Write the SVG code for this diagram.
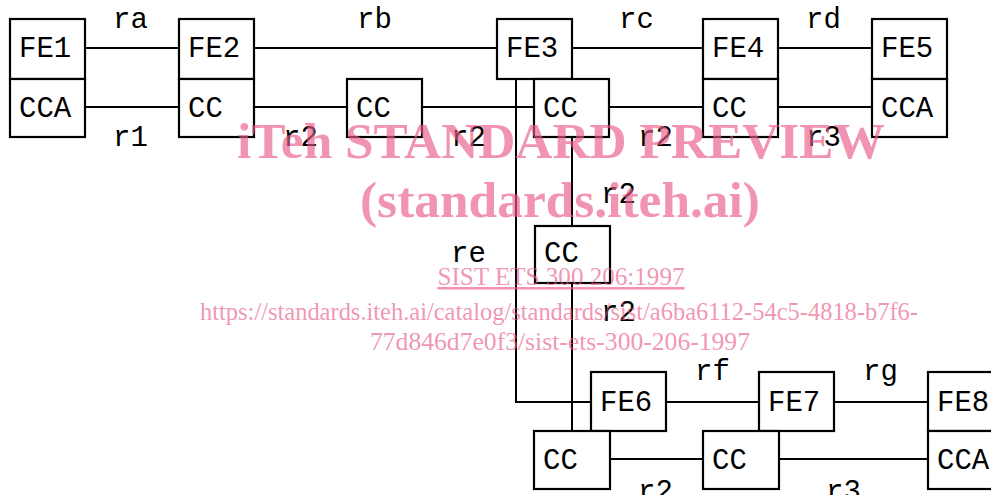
<svg xmlns="http://www.w3.org/2000/svg" width="991" height="495" viewBox="0 0 991 495">
<style>
.box{fill:#fff;stroke:#000;stroke-width:2.2}
.t{font-family:"Liberation Mono","Courier New",monospace;font-size:29px;fill:#000}
.ln{fill:none;stroke:#000;stroke-width:2}
.wm{font-family:"Liberation Serif","Times New Roman",serif;fill:rgb(232,90,135);fill-opacity:0.65;text-anchor:middle}
.wb{font-weight:bold;font-size:51px}
.ws{font-size:25px}
</style>
<rect width="991" height="495" fill="#fff"/>
<g id="connectors">
<path class="ln" d="M85,48H179M254,48H497M572,48H703M778,48H872"/>
<path class="ln" d="M85,107H179M254,107H347M422,107H534M609,107H703M778,107H872"/>
<path class="ln" d="M516,79V402H591"/>
<path class="ln" d="M572,137V226M572,283V431"/>
<path class="ln" d="M666,402H759M834,402H928"/>
<path class="ln" d="M610,459H703M779,459H928"/>
</g>
<g id="labels">
<text class="t" x="113" y="28">ra</text>
<text class="t" x="357" y="28">rb</text>
<text class="t" x="619" y="28">rc</text>
<text class="t" x="806" y="28">rd</text>
<text class="t" x="113" y="146">r1</text>
<text class="t" x="283" y="146">r2</text>
<text class="t" x="451" y="146">r2</text>
<text class="t" x="638" y="146">r2</text>
<text class="t" x="806" y="146">r3</text>
<text class="t" x="601" y="203">r2</text>
<text class="t" x="451" y="262">re</text>
<text class="t" x="601" y="321">r2</text>
<text class="t" x="695" y="380">rf</text>
<text class="t" x="863" y="380">rg</text>
<text class="t" x="638" y="500">r2</text>
<text class="t" x="826" y="500">r3</text>
</g>
<g id="FE1"><rect class="box" x="10" y="19" width="75" height="60"/><text class="t" x="19" y="57">FE1</text></g>
<g id="CCA1"><rect class="box" x="10" y="79" width="75" height="58"/><text class="t" x="19" y="117">CCA</text></g>
<g id="FE2"><rect class="box" x="179" y="19" width="75" height="60"/><text class="t" x="188" y="57">FE2</text></g>
<g id="CC2"><rect class="box" x="179" y="79" width="75" height="58"/><text class="t" x="188" y="117">CC</text></g>
<g id="CCm"><rect class="box" x="347" y="79" width="75" height="58"/><text class="t" x="356" y="117">CC</text></g>
<g id="FE3"><rect class="box" x="497" y="19" width="75" height="60"/><text class="t" x="506" y="57">FE3</text></g>
<g id="CC3"><rect class="box" x="534" y="79" width="75" height="58"/><text class="t" x="543" y="117">CC</text></g>
<g id="FE4"><rect class="box" x="703" y="19" width="75" height="60"/><text class="t" x="712" y="57">FE4</text></g>
<g id="CC4"><rect class="box" x="703" y="79" width="75" height="58"/><text class="t" x="712" y="117">CC</text></g>
<g id="FE5"><rect class="box" x="872" y="19" width="75" height="60"/><text class="t" x="881" y="57">FE5</text></g>
<g id="CCA5"><rect class="box" x="872" y="79" width="75" height="58"/><text class="t" x="881" y="117">CCA</text></g>
<g id="CCv"><rect class="box" x="535" y="226" width="75" height="57"/><text class="t" x="544" y="262">CC</text></g>
<g id="FE6"><rect class="box" x="591" y="372" width="75" height="59"/><text class="t" x="600" y="411">FE6</text></g>
<g id="CC6"><rect class="box" x="534" y="431" width="76" height="58"/><text class="t" x="543" y="469">CC</text></g>
<g id="FE7"><rect class="box" x="759" y="372" width="75" height="59"/><text class="t" x="768" y="411">FE7</text></g>
<g id="CC7"><rect class="box" x="703" y="431" width="76" height="58"/><text class="t" x="712" y="469">CC</text></g>
<g id="FE8"><rect class="box" x="928" y="372" width="75" height="59"/><text class="t" x="937" y="411">FE8</text></g>
<g id="CCA8"><rect class="box" x="928" y="431" width="75" height="58"/><text class="t" x="937" y="469">CCA</text></g>
<g id="watermark">
<text class="wm wb" x="561" y="158" textLength="648" lengthAdjust="spacingAndGlyphs">iTeh STANDARD PREVIEW</text>
<text class="wm wb" x="560" y="217" textLength="400" lengthAdjust="spacingAndGlyphs">(standards.iteh.ai)</text>
<text class="wm ws" x="561" y="285" textLength="247" lengthAdjust="spacingAndGlyphs" text-decoration="underline">SIST ETS 300 206:1997</text>
<text class="wm ws" x="559" y="320" textLength="718" lengthAdjust="spacingAndGlyphs">https://standards.iteh.ai/catalog/standards/sist/a6ba6112-54c5-4818-b7f6-</text>
<text class="wm ws" x="560" y="350" textLength="380" lengthAdjust="spacingAndGlyphs">77d846d7e0f3/sist-ets-300-206-1997</text>
</g>
</svg>
